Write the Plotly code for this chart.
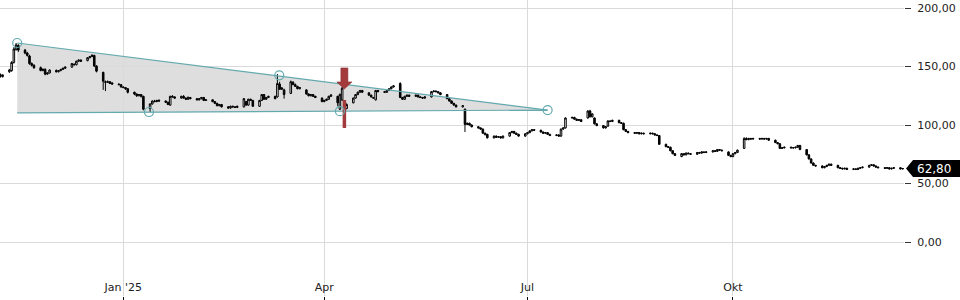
import pandas as pd
import plotly.graph_objects as go

# ---------------- data ----------------
start_day = "2024-11-07"

open_ = [
    143.0, 141.5,
    145.5, 146.5, 153.5, 164.5, 168.0,
    164.0, 161.5, 159.0, 152.5, 151.0,
    149.0, 146.5, 147.5, 143.5, 144.5,
    146.5, 145.5, 146.5, 147.5, 148.5,
    149.5, 152.0, 151.5, 154.5, 155.5,
    155.0, 157.5, 158.5, 159.5, 150.5,
    145.0, 137.0, 136.5, 137.0, 136.0,
    135.0, 134.5, 132.5, 132.0, 131.0,
    128.0, 126.5, 125.0, 126.0, 124.5,
    114.0, 118.0, 120.5, 120.0, 121.0,
    120.5, 119.5, 117.0, 124.5, 124.0,
    123.0, 124.5, 123.0, 122.0, 123.5,
    122.5, 121.5, 122.5, 123.5, 121.0,
    121.5, 120.0, 118.5, 116.5, 117.5,
    115.5, 114.5, 116.0, 115.5, 115.0,
    115.5, 120.0, 117.0, 122.0, 121.0,
    116.0, 121.0, 126.0, 122.0, 123.5,
    124.5, 124.0, 135.0, 130.5, 130.0,
    127.0, 136.5, 134.5, 133.0, 131.0,
    130.0, 126.5, 125.0, 126.0, 124.5,
    123.0, 120.0, 121.0, 122.0, 124.5,
    124.5, 113.5, 121.5, 118.0, 114.0,
    119.0, 123.0, 126.0, 128.0, 129.5,
    127.5, 125.5, 123.5, 121.5, 129.5,
    128.5, 128.0, 129.5, 131.0, 132.5,
    135.5, 123.5, 122.0, 124.5, 125.5,
    124.5, 125.5, 124.0, 123.5, 123.0,
    124.0, 128.5, 129.0, 128.5, 127.5,
    126.0, 122.5, 120.5, 118.5, 117.0,
    115.5, 113.5, 100.5, 101.5, 100.0,
    98.5, 97.5, 96.5, 93.0, 92.0,
    89.0, 90.5, 89.5, 90.0, 89.0,
    90.5, 93.5, 94.5, 93.0, 92.0,
    90.5, 92.5, 93.5, 95.0, 96.0,
    95.5, 94.0, 93.0, 93.5, 92.0,
    91.0, 91.5, 90.5, 96.5, 97.5,
    106.0, 106.5, 105.0, 104.0, 104.5,
    106.0, 112.0, 107.0, 106.0, 101.0,
    99.5, 97.5, 99.0, 103.5, 103.0,
    104.0, 102.0, 101.5, 96.0, 94.5,
    93.5, 93.0, 93.5, 92.5, 93.0,
    92.5, 93.0, 92.5, 91.5, 91.0,
    83.5, 81.5, 81.0, 78.0, 75.5,
    73.0, 75.5, 74.5, 76.0, 75.5,
    75.0, 76.5, 76.0, 77.0, 76.5,
    77.0, 78.0, 77.5, 79.0, 78.5,
    77.0, 74.0, 73.0, 75.5, 76.5,
    80.0, 88.5, 87.5, 88.5, 88.0,
    88.5, 88.0, 88.5, 88.0, 88.5,
    87.0, 85.0, 84.0, 80.0, 80.5,
    81.0, 80.5, 80.5, 81.0, 82.5,
    79.0, 74.5, 71.0, 67.5, 65.5,
    65.0, 63.5, 64.5, 65.5, 66.5,
    65.5, 63.5, 63.0, 62.5, 63.0,
    62.0, 62.5, 62.0, 63.0, 63.5,
    64.0, 65.5, 66.0, 65.0, 64.0,
    63.5, 63.0, 63.5, 62.5, 63.0,
    63.5, 62.5,
]

close = [
    141.5, 142.5,
    147.0, 153.5, 165.0, 168.5, 164.0,
    161.5, 159.5, 152.5, 151.0, 149.0,
    146.5, 147.5, 143.5, 144.5, 147.0,
    145.5, 146.5, 147.5, 148.5, 149.5,
    152.5, 151.5, 154.5, 155.5, 154.5,
    157.5, 158.5, 159.5, 150.5, 146.0,
    137.5, 136.5, 137.0, 135.5, 135.0,
    134.5, 132.5, 132.0, 131.0, 128.0,
    126.5, 125.0, 126.0, 124.5, 113.5,
    118.0, 120.5, 120.0, 121.0, 120.5,
    119.5, 117.5, 124.5, 124.0, 123.0,
    124.5, 123.0, 122.0, 123.5, 122.5,
    121.5, 122.5, 123.5, 121.0, 121.5,
    120.0, 118.5, 116.5, 117.5, 115.5,
    114.5, 116.0, 115.5, 115.0, 116.0,
    122.5, 117.0, 122.0, 121.0, 116.0,
    121.0, 126.0, 122.0, 123.5, 124.5,
    122.5, 135.5, 130.5, 131.5, 126.0,
    137.0, 134.5, 133.0, 131.0, 132.0,
    126.5, 125.0, 126.0, 124.5, 123.5,
    120.0, 121.0, 122.0, 124.5, 125.5,
    119.0, 126.0, 131.5, 110.0, 117.5,
    123.0, 126.0, 128.0, 129.5, 128.0,
    125.5, 124.0, 123.0, 129.5, 128.5,
    128.0, 129.5, 131.0, 132.5, 133.5,
    123.5, 122.0, 124.5, 125.5, 124.5,
    125.5, 124.0, 123.5, 123.0, 124.0,
    128.5, 129.0, 128.5, 127.5, 126.0,
    122.5, 120.5, 118.5, 117.0, 115.5,
    116.5, 100.5, 101.5, 100.0, 98.5,
    97.5, 96.5, 93.0, 92.0, 89.0,
    90.5, 89.5, 90.0, 89.0, 90.5,
    93.5, 94.5, 93.0, 92.0, 90.5,
    92.5, 93.5, 95.0, 96.0, 95.5,
    94.0, 93.0, 93.5, 92.0, 91.0,
    91.5, 90.5, 96.5, 97.5, 106.0,
    106.5, 105.0, 104.0, 104.5, 103.0,
    112.0, 107.0, 109.5, 101.0, 99.5,
    97.5, 98.5, 103.5, 103.0, 104.0,
    102.0, 101.5, 96.0, 94.5, 93.5,
    93.0, 93.5, 92.5, 93.0, 92.5,
    93.0, 92.5, 91.5, 91.0, 83.5,
    81.5, 81.0, 78.0, 75.5, 74.0,
    75.5, 74.5, 76.0, 75.5, 75.0,
    76.5, 76.0, 77.0, 76.5, 77.0,
    78.0, 77.5, 79.0, 78.5, 78.0,
    74.0, 73.0, 75.5, 76.5, 78.5,
    88.5, 87.5, 88.5, 88.0, 88.5,
    88.0, 88.5, 88.0, 88.5, 87.0,
    85.0, 84.0, 80.0, 80.5, 81.0,
    80.5, 80.5, 81.0, 82.5, 79.0,
    74.5, 71.0, 67.5, 65.5, 65.0,
    63.5, 64.5, 65.5, 66.5, 65.5,
    63.5, 63.0, 62.5, 63.0, 62.0,
    62.5, 62.0, 63.0, 63.5, 64.0,
    65.5, 66.0, 65.0, 64.0, 63.5,
    63.0, 63.5, 62.5, 63.0, 63.5,
    62.5, 62.8,
]

high = [
    144.0, 143.5,
    148.0, 154.5, 166.5, 170.1, 169.0,
    165.0, 162.5, 160.0, 153.5, 152.0,
    150.0, 148.5, 148.5, 145.0, 147.5,
    147.5, 147.0, 148.0, 149.0, 150.0,
    153.0, 152.5, 155.0, 156.0, 156.0,
    158.0, 159.0, 160.5, 160.0, 151.0,
    145.5, 138.0, 138.0, 137.5, 136.5,
    135.5, 135.0, 133.0, 132.5, 131.5,
    128.5, 127.0, 126.5, 126.5, 125.0,
    118.5, 121.0, 121.5, 121.5, 122.0,
    121.0, 120.0, 125.0, 125.5, 124.5,
    125.0, 125.5, 123.5, 124.5, 124.0,
    123.0, 123.0, 124.0, 124.0, 122.0,
    122.0, 120.5, 119.0, 118.0, 118.0,
    116.0, 116.5, 116.5, 116.0, 116.5,
    123.0, 120.5, 122.5, 122.5, 121.5,
    121.5, 126.5, 126.5, 124.0, 125.0,
    125.0, 143.6, 137.0, 132.5, 131.0,
    138.0, 137.5, 135.5, 133.5, 132.5,
    130.5, 127.0, 126.5, 126.5, 125.0,
    123.5, 121.5, 122.5, 125.0, 126.5,
    125.0, 127.0, 132.5, 121.4, 118.5,
    123.5, 126.5, 128.5, 130.0, 130.0,
    128.0, 126.0, 124.0, 130.0, 130.0,
    129.0, 130.0, 131.5, 133.0, 134.0,
    136.5, 124.0, 125.0, 126.0, 126.0,
    126.0, 126.0, 124.5, 124.0, 124.5,
    129.0, 129.5, 129.5, 129.0, 128.0,
    126.5, 123.0, 121.0, 119.0, 117.5,
    117.0, 114.0, 102.0, 102.0, 100.5,
    99.0, 98.0, 97.0, 93.5, 92.5,
    91.0, 91.0, 90.5, 90.5, 91.0,
    94.0, 95.0, 95.0, 93.5, 92.5,
    93.0, 94.0, 95.5, 96.5, 96.5,
    96.0, 94.5, 94.0, 94.0, 92.5,
    92.0, 92.0, 97.0, 98.0, 106.5,
    107.0, 107.0, 105.5, 105.0, 105.0,
    112.5, 113.0, 110.0, 106.5, 101.5,
    100.0, 99.0, 104.0, 104.0, 104.5,
    104.5, 102.5, 102.0, 96.5, 95.0,
    94.0, 94.0, 94.0, 93.5, 93.5,
    93.5, 93.5, 93.0, 92.0, 91.5,
    84.0, 82.0, 81.5, 78.5, 76.0,
    76.0, 76.0, 76.5, 76.5, 76.0,
    77.0, 77.0, 77.5, 77.5, 77.5,
    78.5, 78.5, 79.5, 79.5, 79.0,
    77.5, 74.5, 76.0, 77.0, 79.0,
    89.5, 89.5, 89.0, 89.0, 89.0,
    89.0, 89.0, 89.0, 89.0, 89.0,
    87.5, 85.5, 84.5, 81.0, 81.5,
    81.5, 81.0, 81.5, 83.0, 83.0,
    79.5, 75.0, 71.5, 68.0, 66.0,
    65.5, 65.0, 66.0, 67.0, 67.0,
    66.0, 64.0, 63.5, 63.5, 63.5,
    63.0, 63.0, 63.5, 64.0, 64.5,
    66.0, 66.5, 66.5, 65.5, 64.5,
    64.0, 64.0, 64.0, 63.5, 64.0,
    64.0, 63.3,
]

low = [
    140.5, 140.5,
    144.5, 145.5, 152.5, 163.5, 162.5,
    160.5, 158.5, 151.5, 150.0, 148.0,
    146.0, 146.0, 142.5, 143.0, 144.0,
    145.0, 145.0, 146.0, 147.0, 148.0,
    149.0, 151.0, 151.0, 154.0, 154.0,
    154.5, 157.0, 158.0, 149.5, 145.0,
    130.0, 129.0, 136.0, 135.0, 134.5,
    134.0, 132.0, 131.5, 130.0, 127.0,
    125.5, 124.0, 124.5, 123.5, 112.5,
    111.1, 117.5, 119.5, 119.5, 120.0,
    119.0, 117.0, 116.5, 123.5, 122.5,
    122.5, 122.5, 121.5, 121.5, 122.0,
    121.0, 121.0, 122.0, 120.5, 120.5,
    119.5, 118.0, 116.0, 116.0, 115.0,
    114.0, 114.0, 115.0, 114.5, 114.5,
    115.0, 116.5, 116.5, 120.5, 115.5,
    115.5, 120.5, 121.5, 121.5, 123.0,
    122.0, 123.5, 130.0, 130.0, 122.5,
    126.5, 134.0, 132.5, 130.5, 130.5,
    126.0, 124.5, 124.5, 124.0, 123.0,
    119.5, 119.5, 120.5, 121.5, 124.0,
    116.0, 112.8, 120.5, 97.5, 113.5,
    118.5, 122.5, 125.5, 127.5, 127.5,
    125.0, 123.5, 122.5, 121.0, 128.0,
    127.5, 127.5, 129.0, 130.5, 132.0,
    123.0, 121.5, 121.5, 124.0, 124.0,
    124.0, 123.5, 123.0, 122.5, 122.5,
    123.5, 128.0, 128.0, 127.0, 125.5,
    122.0, 120.0, 118.0, 116.5, 115.0,
    115.0, 94.0, 100.0, 99.5, 98.0,
    97.0, 96.0, 92.5, 91.0, 88.5,
    88.5, 89.0, 89.0, 88.5, 88.5,
    90.0, 93.0, 92.5, 91.5, 90.0,
    90.0, 92.0, 93.0, 94.5, 95.0,
    93.5, 92.5, 92.5, 91.5, 90.5,
    90.5, 90.0, 90.0, 96.0, 97.0,
    105.5, 104.5, 103.5, 103.5, 102.5,
    105.5, 106.5, 106.5, 100.5, 99.0,
    97.0, 97.0, 98.5, 102.5, 102.5,
    101.5, 101.0, 95.5, 94.0, 93.0,
    92.5, 92.5, 92.0, 92.0, 92.0,
    92.0, 92.0, 91.0, 90.5, 83.0,
    81.0, 80.5, 77.5, 75.0, 73.5,
    72.5, 74.0, 74.0, 75.0, 74.5,
    74.5, 75.5, 75.5, 76.0, 76.0,
    76.5, 77.0, 77.0, 78.0, 77.5,
    73.5, 72.5, 72.5, 75.0, 76.0,
    79.5, 87.0, 87.0, 87.5, 87.5,
    87.5, 87.5, 87.5, 87.5, 86.5,
    84.5, 83.5, 79.5, 79.5, 80.0,
    80.0, 80.0, 80.0, 80.5, 78.5,
    74.0, 70.5, 67.0, 65.0, 64.5,
    63.0, 63.0, 64.0, 65.0, 65.0,
    63.0, 62.5, 62.0, 62.0, 61.5,
    61.5, 61.5, 61.5, 62.5, 63.0,
    63.5, 65.0, 64.5, 63.5, 63.0,
    62.5, 62.5, 62.0, 62.0, 62.5,
    62.0, 62.0,
]

# triangle pattern (trend lines) and pivot points
trend_dates = ["2024-11-14 12:00", "2025-07-10"]
trend_upper = [170.1, 112.8]
trend_lower = [110.3, 112.8]
pivot_dates = ["2024-11-14 12:00", "2025-01-12 12:00", "2025-03-11 20:00", "2025-04-08", "2025-07-10"]
pivot_values = [170.1, 111.1, 142.5, 111.8, 112.8]

signal_date = "2025-04-10"
last_price = 62.80

y_ticks = [0, 50, 100, 150, 200]
x_tick_dates = ["2025-01-01", "2025-04-01", "2025-07-01", "2025-10-01"]
x_tick_labels = ["Jan '25", "Apr", "Jul", "Okt"]

# ---------------- figure ----------------
dates = pd.bdate_range(start_day, periods=len(close))

TEAL = "#63a9ae"
GRID = "#dadada"
RED = "#a33a3b"
FONT = "DejaVu Sans"


def ms(d):
    return pd.Timestamp(d).value / 1e6


fig = go.Figure()

# trend lines
fig.add_trace(go.Scatter(x=trend_dates, y=trend_upper, mode="lines",
                         line=dict(color=TEAL, width=1.2), hoverinfo="skip", showlegend=False))
fig.add_trace(go.Scatter(x=trend_dates, y=trend_lower, mode="lines",
                         line=dict(color=TEAL, width=1.2), hoverinfo="skip", showlegend=False))

# signal: red bar behind the signal candle
sig_i = list(dates).index(pd.Timestamp(signal_date))
fig.add_trace(go.Scatter(x=[dates[sig_i], dates[sig_i]], y=[low[sig_i], high[sig_i]], mode="lines",
                         line=dict(color=RED, width=3.5), hoverinfo="skip", showlegend=False))

fig.add_trace(go.Candlestick(
    x=dates, open=open_, high=high, low=low, close=close,
    increasing=dict(line=dict(color="black", width=1), fillcolor="white"),
    decreasing=dict(line=dict(color="black", width=1), fillcolor="black"),
    whiskerwidth=0, showlegend=False, hoverinfo="skip",
))

fig.add_trace(go.Scatter(x=pivot_dates, y=pivot_values, mode="markers",
                         marker=dict(symbol="circle-open", size=9, color=TEAL, line=dict(width=1.2)),
                         hoverinfo="skip", showlegend=False))

# triangle fill (below gridlines)
tri_path = (f"M {ms(trend_dates[0])},{trend_lower[0]} "
            f"L {ms(trend_dates[0])},{trend_upper[0]} "
            f"L {ms(trend_dates[1])},{trend_upper[1]} "
            f"L {ms(trend_dates[1])},{trend_lower[1]} Z")
fig.add_shape(type="path", path=tri_path, xref="x", yref="y",
              fillcolor="#dedede", line=dict(width=0), layer="below")

# red arrow above the signal candle
fig.add_shape(type="path", xref="x", yref="y",
              xsizemode="pixel", ysizemode="pixel",
              xanchor=dates[sig_i], yanchor=high[sig_i],
              path="M -3.5,32 L 3.5,32 L 3.5,18 L 7.5,18 L 0,11 L -7.5,18 L -3.5,18 Z",
              fillcolor=RED, line=dict(color="#8e2f30", width=0.6), layer="above")

# last price label on the right axis
fig.add_shape(type="path", xref="paper", yref="y",
              xsizemode="pixel", ysizemode="pixel", xanchor=1, yanchor=last_price,
              path="M 2,0 L 9,8.5 L 60,8.5 L 60,-8.5 L 9,-8.5 Z",
              fillcolor="black", line=dict(width=0), layer="above")
fig.add_annotation(xref="paper", yref="y", x=1, y=last_price, xanchor="left", yanchor="middle",
                   xshift=11, text=f"{last_price:.2f}".replace(".", ","), showarrow=False,
                   font=dict(family=FONT, size=12, color="white"))

fig.update_layout(
    width=960, height=300,
    margin=dict(l=0, r=56, t=0, b=4),
    paper_bgcolor="white", plot_bgcolor="white",
    separators=",.",
    boxgap=0.3, boxgroupgap=0,
    showlegend=False,
    font=dict(family=FONT, size=11, color="#222222"),
    xaxis=dict(
        type="date",
        range=["2024-11-06 19:00", "2025-12-16 14:00"],
        rangeslider=dict(visible=False),
        tickvals=x_tick_dates, ticktext=x_tick_labels,
        showgrid=True, gridcolor=GRID, gridwidth=1,
        ticks="outside", ticklen=4, tickcolor="black",
        ticklabelposition="inside",
        showline=False, zeroline=False,
        tickfont=dict(family=FONT, size=11, color="#222222"),
    ),
    yaxis=dict(
        side="right",
        range=[-46.15, 206.84],
        tickvals=y_ticks, tickformat=".2f",
        showgrid=True, gridcolor=GRID, gridwidth=1,
        ticks="outside", ticklen=6, tickcolor="#333333",
        ticklabelstandoff=4,
        showline=False, zeroline=False,
        tickfont=dict(family=FONT, size=11, color="#222222"),
    ),
)

fig.write_html("out.html")
